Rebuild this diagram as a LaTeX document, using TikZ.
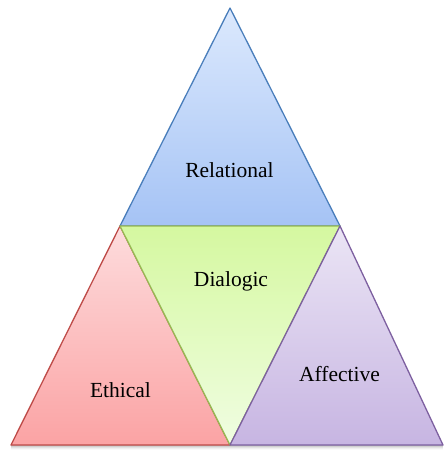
\documentclass[tikz,border=0pt]{standalone}
\usepackage{fontspec}
\setmainfont{Liberation Serif}
\begin{document}
\begin{tikzpicture}[x=1pt,y=-1pt,line join=round,line width=1.3pt,
  lbl/.style={font=\fontsize{21.5}{23}\selectfont,text=black,inner sep=0pt}]
\definecolor{bluel}{HTML}{4A7EBB}
\definecolor{greenl}{HTML}{98B954}
\definecolor{redl}{HTML}{BE4B48}
\definecolor{purl}{HTML}{7D60A0}
\definecolor{bluet}{HTML}{DCE9FD}
\definecolor{blueb}{HTML}{A5C3F5}
\definecolor{redt}{HTML}{FDDCDD}
\definecolor{redb}{HTML}{FBA3A4}
\definecolor{greent}{HTML}{D5F8A0}
\definecolor{greenb}{HTML}{F0FDE2}
\definecolor{purt}{HTML}{EBE5F5}
\definecolor{purb}{HTML}{C7B5E2}
\useasboundingbox (0,0) rectangle (444,451);
% soft shadow under the bases
\foreach \i/\o in {1/0.10,2/0.08,3/0.06,4/0.04,5/0.02}{
  \fill[black,opacity=\o] (11,445) rectangle (443,445+\i);
}
\coordinate (T) at (230,8);
\coordinate (L) at (120,226);
\coordinate (R) at (340,226);
\coordinate (BL) at (11,445);
\coordinate (BM) at (230,445);
\coordinate (BR) at (443,445);
\path[draw=bluel,top color=bluet,bottom color=blueb] (T) -- (R) -- (L) -- cycle;
\path[draw=redl,top color=redt,bottom color=redb] (L) -- (BM) -- (BL) -- cycle;
\path[draw=greenl,top color=greent,bottom color=greenb] (L) -- (R) -- (BM) -- cycle;
\path[draw=purl,top color=purt,bottom color=purb] (R) -- (BR) -- (BM) -- cycle;
\node[lbl] (rel) at (229.5,170) {Relational};
\node[lbl] (dia) at (231,281) {Dialogic};
\node[lbl] (eth) at (120.5,390) {Ethical};
\node[lbl] (aff) at (339.5,374) {Affective};
\end{tikzpicture}
\end{document}
